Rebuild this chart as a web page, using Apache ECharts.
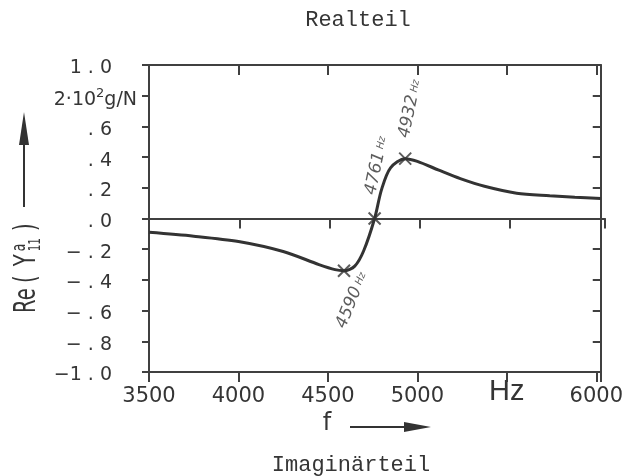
<!DOCTYPE html>
<html>
<head>
<meta charset="utf-8">
<script src="https://cdn.jsdelivr.net/npm/echarts@6/dist/echarts.min.js"></script>
<style>
html,body{margin:0;padding:0;background:#fff;}
#chart{width:626px;height:476px;}
</style>
</head>
<body>
<div id="chart"></div>
<script>
// Kurve Re(Y11) ueber f
var freq = [3500, 3750, 4000, 4250, 4450, 4540, 4590, 4650, 4700, 4761, 4800, 4850, 4932, 5000, 5120, 5240, 5375, 5555, 5740, 5880, 6025];
var re   = [-0.09, -0.115, -0.15, -0.215, -0.3, -0.333, -0.34, -0.31, -0.21, 0, 0.19, 0.33, 0.39, 0.372, 0.315, 0.26, 0.21, 0.165, 0.148, 0.138, 0.13];

// markierte Punkte
var markFreq = [4590, 4761, 4932];
var markRe   = [-0.34, 0, 0.39];
var markText = ['4590', '4761', '4932'];

// Achsenbeschriftung
var xTicks  = [3500, 4000, 4500, 5000, 5500, 6000];
var xLabels = ['3500', '4000', '4500', '5000', 'Hz', '6000'];
var yLabels = ['\u22121 . 0', '\u2212 . 8', '\u2212 . 6', '\u2212 . 4', '\u2212 . 2', ' . 0', ' . 2', ' . 4', ' . 6', '2\u00b710\u00b2g/N', '1 . 0'];

var ink = '#333';
var frame = '#404040';
var txt = '#353535';

var chart = echarts.init(document.getElementById('chart'));

var lineData = freq.map(function (f, i) { return [f, re[i]]; });
var markData = markFreq.map(function (f, i) { return [f, markRe[i]]; });

// label offsets for the rotated Hz texts
var labelPos = [[4, 64], [3, -17], [6, -14]];
var labelRot = [68, 78, 78];

var option = {
    backgroundColor: '#fff',
    animation: false,
    grid: [
        {left: 149, right: 21, top: 65, bottom: 104},
        {left: 149, right: 21, top: 65, bottom: 104}
    ],
    xAxis: [
        {
            type: 'value', gridIndex: 0, position: 'bottom',
            min: 3500, max: 6025, interval: 500,
            splitLine: {show: false},
            axisLine: {onZero: false, lineStyle: {color: frame, width: 2}},
            axisTick: {inside: false, length: 10, lineStyle: {color: frame, width: 2}},
            axisLabel: {
                margin: 14,
                color: txt,
                fontFamily: 'DejaVu Sans',
                fontSize: 21,
                formatter: function (v) {
                    var k = xTicks.indexOf(v);
                    if (k < 0) return '';
                    if (xLabels[k] === 'Hz') return '{hz|Hz}';
                    return xLabels[k];
                },
                rich: {
                    hz: {fontFamily: 'Liberation Sans Narrow, Liberation Sans', fontSize: 29, lineHeight: 12, color: txt}
                }
            }
        },
        {
            type: 'value', gridIndex: 0, position: 'top',
            min: 3500, max: 6025, interval: 500,
            splitLine: {show: false},
            axisLine: {onZero: false, lineStyle: {color: frame, width: 2}},
            axisTick: {inside: true, length: 10, lineStyle: {color: frame, width: 2}},
            axisLabel: {show: false}
        },
        {
            type: 'value', gridIndex: 1, position: 'top',
            min: 3500, max: 6025, interval: 500,
            splitLine: {show: false},
            axisLine: {onZero: true, lineStyle: {color: frame, width: 2}},
            axisTick: {inside: true, length: 10, lineStyle: {color: frame, width: 2}},
            axisLabel: {show: false}
        }
    ],
    yAxis: [
        {
            type: 'value', gridIndex: 0, position: 'left',
            min: -1, max: 1, interval: 0.2,
            splitLine: {show: false},
            axisLine: {onZero: false, lineStyle: {color: frame, width: 2}},
            axisTick: {inside: false, length: 7, lineStyle: {color: frame, width: 2}},
            axisLabel: {
                margin: 12,
                color: txt,
                formatter: function (v) {
                    var k = Math.round(v * 10);
                    var idx = (k + 10) / 2;
                    if (k === 8) return '{u|2\u00b710}{s|2}{u|g/N}';
                    return '{n|' + yLabels[idx] + '}';
                },
                rich: {
                    n: {fontFamily: 'DejaVu Sans', fontSize: 19, color: txt, padding: [7, 25, 0, 0]},
                    u: {fontFamily: 'DejaVu Sans', fontSize: 19, color: txt, padding: [9, 0, 0, 0]},
                    s: {fontFamily: 'DejaVu Sans', fontSize: 13, color: txt, padding: [0, 0, 4, 0]}
                }
            }
        },
        {
            type: 'value', gridIndex: 0, position: 'right',
            min: -1, max: 1, interval: 0.2,
            splitLine: {show: false},
            axisLine: {onZero: false, lineStyle: {color: frame, width: 2}},
            axisTick: {inside: true, length: 8, lineStyle: {color: frame, width: 2}},
            axisLabel: {show: false}
        },
        {
            type: 'value', gridIndex: 1, show: false,
            min: -1, max: 1, interval: 0.2
        }
    ],
    graphic: [
        {type: 'text', x: 358, y: 20, style: {text: 'Realteil', font: '22px "Liberation Mono"', fill: txt, align: 'center', verticalAlign: 'middle'}},
        {type: 'text', x: 351, y: 465, style: {text: 'Imagin\u00e4rteil', font: '22px "Liberation Mono"', fill: txt, align: 'center', verticalAlign: 'middle'}},
        {type: 'text', x: 327, y: 424, style: {text: 'f', font: '24px "DejaVu Sans"', fill: txt, align: 'center', verticalAlign: 'middle'}},
        {type: 'line', shape: {x1: 350, y1: 427, x2: 410, y2: 427}, style: {stroke: ink, lineWidth: 2}},
        {type: 'polygon', shape: {points: [[404, 422], [431, 427], [404, 432]]}, style: {fill: ink}},
        {type: 'line', shape: {x1: 24, y1: 207, x2: 24, y2: 140}, style: {stroke: ink, lineWidth: 2}},
        {type: 'polygon', shape: {points: [[19, 145], [24, 112], [29, 145]]}, style: {fill: ink}},
        {
            type: 'group', x: 27, y: 313, rotation: Math.PI / 2, scaleX: 0.65,
            children: [
                {type: 'text', x: 0, y: 0, style: {text: 'Re', font: '30px "DejaVu Sans"', fill: txt, align: 'left', verticalAlign: 'middle'}},
                {type: 'text', x: 46, y: 0, style: {text: '(', font: '30px "DejaVu Sans"', fill: txt, align: 'left', verticalAlign: 'middle'}},
                {type: 'text', x: 72, y: 0, style: {text: 'Y', font: '30px "DejaVu Sans"', fill: txt, align: 'left', verticalAlign: 'middle'}},
                {type: 'text', x: 95, y: -7, style: {text: 'a', font: '19px "DejaVu Sans"', fill: txt, align: 'left', verticalAlign: 'middle'}},
                {type: 'text', x: 95, y: 9, style: {text: '11', font: '16px "DejaVu Sans"', fill: txt, align: 'left', verticalAlign: 'middle'}},
                {type: 'text', x: 126, y: 0, style: {text: ')', font: '30px "DejaVu Sans"', fill: txt, align: 'left', verticalAlign: 'middle'}}
            ]
        }
    ],
    series: [
        {
            type: 'line',
            xAxisIndex: 0, yAxisIndex: 0,
            data: lineData,
            smooth: 0.3,
            showSymbol: false,
            lineStyle: {color: ink, width: 3}
        },
        {
            type: 'scatter',
            xAxisIndex: 0, yAxisIndex: 0,
            data: markData.map(function (d, i) {
                return {
                    value: d,
                    label: {
                        show: true,
                        position: labelPos[i],
                        rotate: labelRot[i],
                        align: 'left',
                        verticalAlign: 'middle',
                        formatter: '{n|' + markText[i] + '}{h| Hz}',
                        rich: {
                            n: {fontFamily: 'DejaVu Sans', fontStyle: 'italic', fontSize: 17, color: txt},
                            h: {fontFamily: 'DejaVu Sans', fontStyle: 'italic', fontSize: 10, color: txt}
                        }
                    }
                };
            }),
            symbol: 'path://M0,0L10,10M10,0L0,10',
            symbolSize: 12,
            itemStyle: {color: 'rgba(0,0,0,0)', borderColor: ink, borderWidth: 2},
            z: 5
        }
    ]
};

chart.setOption(option);
</script>
</body>
</html>
